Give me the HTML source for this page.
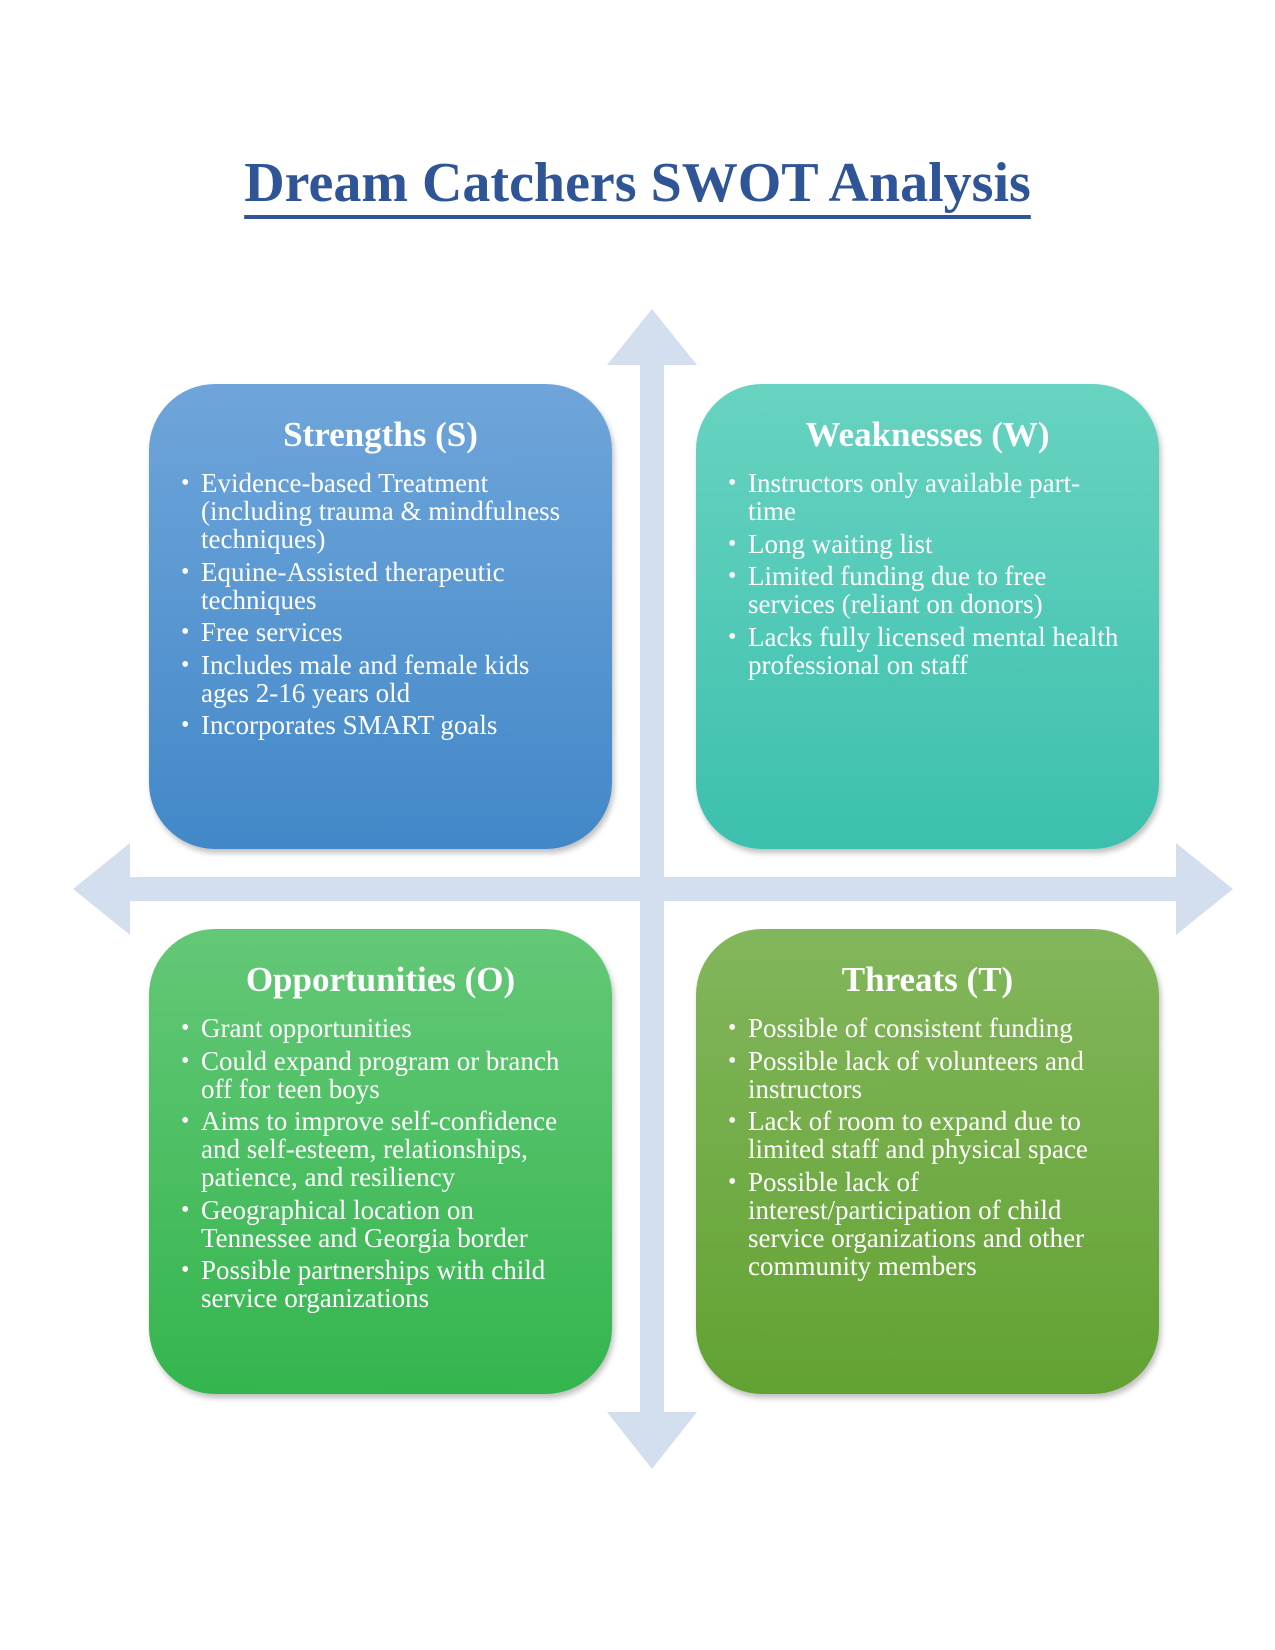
<!DOCTYPE html>
<html><head><meta charset="utf-8"><style>
html,body{margin:0;padding:0;background:#fff;}
body{width:1275px;height:1650px;position:relative;overflow:hidden;font-family:"Liberation Serif",serif;}
.title{position:absolute;left:0;width:1275px;top:151px;text-align:center;font-weight:bold;font-size:56px;color:#2f5597;white-space:nowrap;}
.title span{text-decoration:underline;text-decoration-thickness:4px;text-underline-offset:14px;}
.box{position:absolute;width:463px;height:465px;border-radius:66px;box-shadow:2px 4px 6px rgba(0,0,0,0.25);color:#fff;}
.box h2{margin:0;position:absolute;top:31px;left:0;width:100%;text-align:center;font-size:35px;font-weight:bold;}
.box ul{position:absolute;top:85px;left:33px;margin:0;padding:0;list-style:none;font-size:27px;line-height:28px;white-space:nowrap;}
.box li{position:relative;padding-left:19px;margin-bottom:4.5px;}
.box li:before{content:"•";position:absolute;left:-1px;top:0;font-size:24px;}
</style></head><body>
<svg width="1275" height="1650" style="position:absolute;left:0;top:0">
<g fill="#d3deef">
<polygon points="652,309 697,365 664,365 664,1412 697,1412 652,1469 607,1412 640,1412 640,365 607,365"/>
<polygon points="73,889 130,843 130,877 1176,877 1176,843 1233,889 1176,935 1176,901 130,901 130,935"/>
</g></svg>
<div class="title"><span>Dream Catchers SWOT Analysis</span></div>

<div class="box" style="left:149px;top:384px;background:linear-gradient(#6fa5da,#4288c8);">
<h2>Strengths (S)</h2>
<ul>
<li>Evidence-based Treatment<br>(including trauma &amp; mindfulness<br>techniques)</li>
<li>Equine-Assisted therapeutic<br>techniques</li>
<li>Free services</li>
<li>Includes male and female kids<br>ages 2-16 years old</li>
<li>Incorporates SMART goals</li>
</ul></div>

<div class="box" style="left:696px;top:384px;background:linear-gradient(#68d3c0,#3cc0ae);">
<h2>Weaknesses (W)</h2>
<ul>
<li>Instructors only available part-<br>time</li>
<li>Long waiting list</li>
<li>Limited funding due to free<br>services (reliant on donors)</li>
<li>Lacks fully licensed mental health<br>professional on staff</li>
</ul></div>

<div class="box" style="left:149px;top:929px;background:linear-gradient(#64c877,#34b54e);">
<h2>Opportunities (O)</h2>
<ul>
<li>Grant opportunities</li>
<li>Could expand program or branch<br>off for teen boys</li>
<li>Aims to improve self-confidence<br>and self-esteem, relationships,<br>patience, and resiliency</li>
<li>Geographical location on<br>Tennessee and Georgia border</li>
<li>Possible partnerships with child<br>service organizations</li>
</ul></div>

<div class="box" style="left:696px;top:929px;background:linear-gradient(#83b65c,#62a232);">
<h2>Threats (T)</h2>
<ul>
<li>Possible of consistent funding</li>
<li>Possible lack of volunteers and<br>instructors</li>
<li>Lack of room to expand due to<br>limited staff and physical space</li>
<li>Possible lack of<br>interest/participation of child<br>service organizations and other<br>community members</li>
</ul></div>
</body></html>
